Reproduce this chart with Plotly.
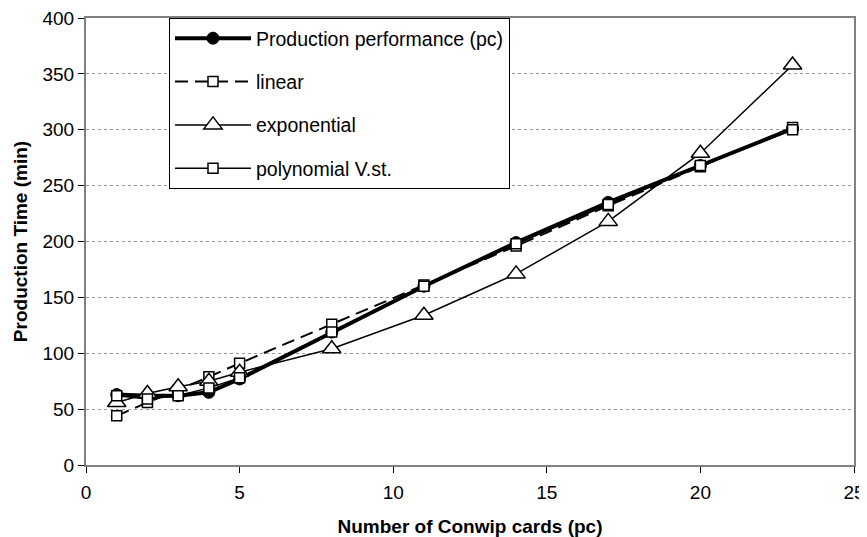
import plotly.graph_objects as go

cards = [1, 2, 3, 4, 5, 8, 11, 14, 17, 20, 23]
production = [63, 62, 62, 65, 77, 119, 160, 199, 235, 268, 301]
linear = [44, 56, 67, 79, 91, 126, 161, 196, 232, 267, 302]
exponential = [56, 64, 70, 75, 83, 104, 134, 171, 218, 279, 358]
polynomial = [62, 59, 62, 69, 78, 119, 160, 198, 233, 268, 300]

x_ticks = [0, 5, 10, 15, 20, 25]
y_ticks = [0, 50, 100, 150, 200, 250, 300, 350, 400]

FONT = "Liberation Sans, Arial, sans-serif"

fig = go.Figure()
fig.add_trace(go.Scatter(
    x=cards, y=production, name="Production performance (pc)", mode="lines+markers",
    legendgroup="a",
    line=dict(color="black", width=4),
    marker=dict(symbol="circle", size=12, color="black", line=dict(color="black", width=1)),
))
fig.add_trace(go.Scatter(
    x=cards, y=linear, name="linear", mode="lines+markers", legendgroup="b",
    line=dict(color="black", width=2, dash="13px,7px"),
    marker=dict(symbol="square", size=10, color="white", line=dict(color="black", width=1.5)),
))
fig.add_trace(go.Scatter(
    x=cards, y=exponential, name="exponential", mode="lines+markers", legendgroup="c",
    line=dict(color="black", width=1.5),
    marker=dict(symbol="triangle-up", size=16, color="white", line=dict(color="black", width=1.5)),
))
fig.add_trace(go.Scatter(
    x=cards, y=polynomial, name="polynomial V.st.", mode="lines+markers", legendgroup="d",
    line=dict(color="black", width=1.5),
    marker=dict(symbol="square", size=10, color="white", line=dict(color="black", width=1.5)),
))

# page body has an 8px default margin; compensate so the plot sits where the reference has it
fig.update_layout(
    width=859, height=529,
    margin=dict(l=78, r=13, t=10, b=72, autoexpand=False),
    paper_bgcolor="white", plot_bgcolor="white",
    font=dict(family=FONT, size=19, color="black"),
    showlegend=True,
    legend=dict(
        x=(169 - 86) / 768, y=1, xanchor="left", yanchor="top",
        bgcolor="white", bordercolor="black", borderwidth=1,
        font=dict(family=FONT, size=19.5, color="black"),
        itemwidth=76, tracegroupgap=15, traceorder="grouped",
    ),
    xaxis=dict(
        range=[0, 25], tickvals=x_ticks, ticks="outside", ticklen=6, tickcolor="black",
        showline=True, linecolor="#808080", linewidth=2, mirror=True,
        showgrid=False, zeroline=False, ticklabelstandoff=3, automargin=False,
        ticklabeloverflow="allow",
        title=dict(text="<b>Number of Conwip cards (pc)</b>", standoff=19,
                   font=dict(family=FONT, size=19)),
        tickfont=dict(family=FONT, size=19),
    ),
    yaxis=dict(
        range=[0, 400], tickvals=y_ticks, ticks="outside", ticklen=6, tickcolor="black",
        showline=True, linecolor="#808080", linewidth=2, mirror=True,
        showgrid=True, gridcolor="#999999", gridwidth=1, griddash="dot", zeroline=False,
        automargin=False, ticklabeloverflow="allow",
        title=dict(text="<b>Production Time (min)</b>", standoff=10,
                   font=dict(family=FONT, size=19)),
        tickfont=dict(family=FONT, size=19),
    ),
)

fig.write_html("out.html")
